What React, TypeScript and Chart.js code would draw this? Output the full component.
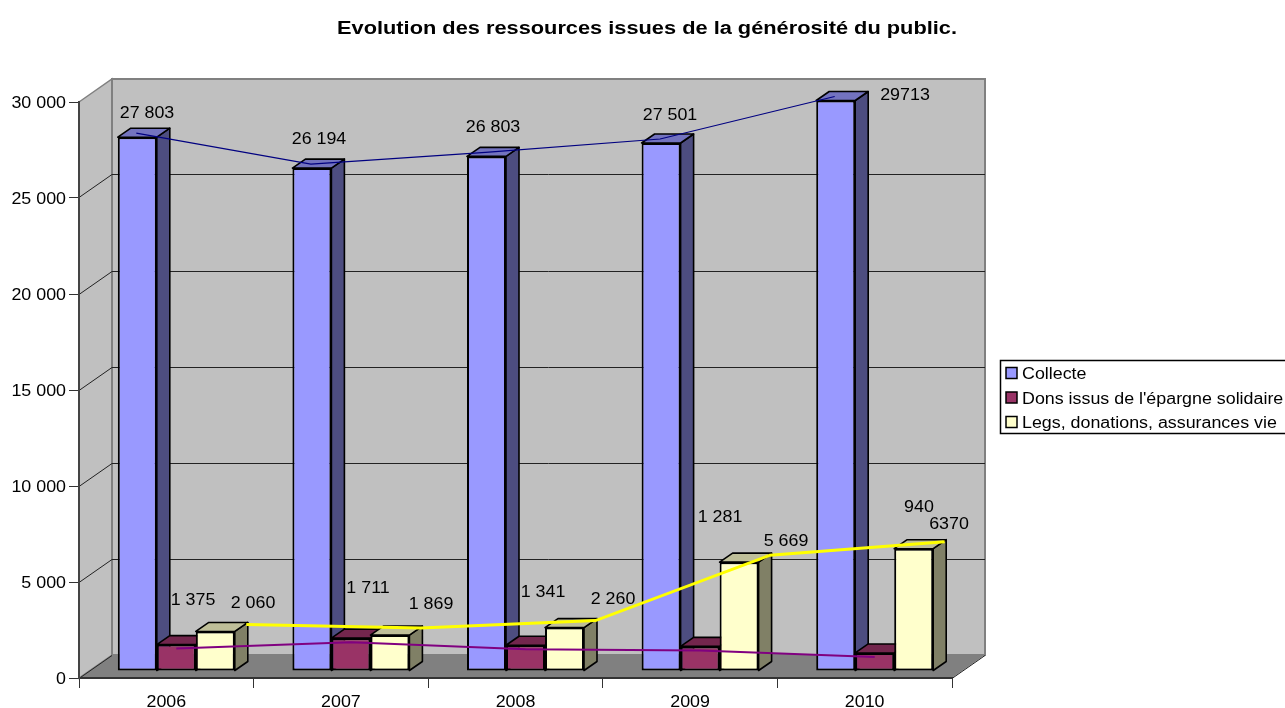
import React, { useEffect, useRef } from "react";
import { Chart, registerables } from "chart.js";

Chart.register(...registerables);

const years = ["2006", "2007", "2008", "2009", "2010"];
const collecte = [27803, 26194, 26803, 27501, 29713];
const dons = [1375, 1711, 1341, 1281, 940];
const legs = [2060, 1869, 2260, 5669, 6370];
const collecteLabels = ["27 803", "26 194", "26 803", "27 501", "29713"];
const donsLabels = ["1 375", "1 711", "1 341", "1 281", "940"];
const legsLabels = ["2 060", "1 869", "2 260", "5 669", "6370"];
const titleText = "Evolution des ressources issues de la générosité du public.";
const seriesNames = ["Collecte", "Dons issus de l'épargne solidaire", "Legs, donations, assurances vie"];

const FONT = "'Liberation Sans', Arial, sans-serif";
const WALL = { dx: 33, dy: -23 };
const BAR_DEPTH = { dx: 13, dy: -9 };
const BAR_STEP = 39;
const BAR_SHIFT = { x: 10, y: -7 };
const TEXT_STRETCH = 1.115;
const TITLE_STRETCH = 1.245;
const TEXT_DROP = 1.2;

const collecteOffsets = [[19.7, -32.2], [17.1, -37.1], [16.5, -37.4], [18.9, -36], [79.3, -13.5]];
const donsOffsets = [[26.7, -52.6], [27.1, -58.1], [27.5, -61.3], [29.9, -137.4], [54.3, -154]];
const legsOffsets = [[47.7, -36.4], [51.1, -39.1], [58.5, -36.6], [56.9, -29.2], [45.3, -32.7]];

const palette = [
  { front: "#9999FF", side: "#4D4D80", top: "#7373BF" },
  { front: "#993366", side: "#4D1A33", top: "#73264D" },
  { front: "#FFFFCC", side: "#808066", top: "#BFBF99" },
];

function poly(ctx: CanvasRenderingContext2D, pts: number[][], fill?: string, stroke?: string, lw = 1) {
  ctx.beginPath();
  pts.forEach((p, i) => (i ? ctx.lineTo(p[0], p[1]) : ctx.moveTo(p[0], p[1])));
  ctx.closePath();
  if (fill) { ctx.fillStyle = fill; ctx.fill(); }
  if (stroke) { ctx.strokeStyle = stroke; ctx.lineWidth = lw; ctx.stroke(); }
}

const scene3d = {
  id: "scene3d",
  beforeInit(chart: any) {
    // the reference's text is horizontally stretched: widen every glyph run around its anchor
    const ctx = chart.ctx;
    const fill = ctx.fillText.bind(ctx);
    ctx.fillText = (text: string, x: number, y: number) => {
      ctx.save();
      ctx.translate(x, y + TEXT_DROP);
      ctx.scale(ctx.font.includes("bold") ? TITLE_STRETCH : TEXT_STRETCH, 1);
      fill(text, 0, 0);
      ctx.restore();
    };
  },
  afterLayout(chart: any) {
    chart.titleBlock.left = 9;
    chart.titleBlock.right = chart.width;
  },
  beforeDraw(chart: any) {
    const { ctx, chartArea: a, scales } = chart;
    const { dx, dy } = WALL;
    ctx.save();
    poly(ctx, [[a.left, a.top], [a.left + dx, a.top + dy], [a.left + dx, a.bottom + dy], [a.left, a.bottom]], "#C0C0C0", "#808080", 1.5);
    poly(ctx, [[a.left + dx, a.top + dy], [a.right + dx, a.top + dy], [a.right + dx, a.bottom + dy], [a.left + dx, a.bottom + dy]], "#C0C0C0", "#808080", 2);
    poly(ctx, [[a.left, a.bottom], [a.left + dx, a.bottom + dy], [a.right + dx, a.bottom + dy], [a.right, a.bottom]], "#808080");
    ctx.strokeStyle = "#222";
    ctx.lineWidth = 1;
    ctx.beginPath();
    scales.y.ticks.forEach((t: any) => {
      const y = Math.floor(scales.y.getPixelForValue(t.value)) + 0.5;
      if (t.value === 30000) return;
      ctx.moveTo(a.left, y);
      ctx.lineTo(a.left + dx, y + dy);
      if (t.value > 0) ctx.lineTo(a.right + dx, y + dy);
      else { ctx.moveTo(a.right + dx, y + dy); ctx.lineTo(a.right, y); }
    });
    ctx.stroke();
    ctx.restore();
  },
  beforeDatasetDraw(chart: any, args: any) {
    const { ctx } = chart;
    const ds = chart.data.datasets[args.index];
    ctx.save();
    ctx.translate(ds.shiftX, ds.shiftY);
    if (ds.type === "line") return;
    const c = palette[args.index];
    args.meta.data.forEach((el: any) => {
      const l = el.x - el.width / 2, r = el.x + el.width / 2;
      const { dx, dy } = BAR_DEPTH;
      ctx.lineJoin = "round";
      poly(ctx, [[r, el.y], [r + dx, el.y + dy], [r + dx, el.base + dy], [r, el.base]], c.side, "#000", 1.6);
      poly(ctx, [[l, el.y], [l + dx, el.y + dy], [r + dx, el.y + dy], [r, el.y]], c.top, "#000", 1.6);
    });
  },
  afterDatasetDraw(chart: any) {
    chart.ctx.restore();
  },
  afterDraw(chart: any) {
    const { ctx } = chart;
    const sets = [
      { labels: collecteLabels, offsets: collecteOffsets },
      { labels: donsLabels, offsets: donsOffsets },
      { labels: legsLabels, offsets: legsOffsets },
    ];
    ctx.save();
    ctx.font = `16px ${FONT}`;
    ctx.fillStyle = "#000";
    ctx.textAlign = "center";
    ctx.textBaseline = "middle";
    sets.forEach((s, i) => {
      const shift = chart.data.datasets[i].shiftX - BAR_SHIFT.x;
      chart.getDatasetMeta(i).data.forEach((el: any, j: number) => {
        ctx.fillText(s.labels[j], el.x + shift + s.offsets[j][0], el.y + s.offsets[j][1]);
      });
    });
    // legend
    ctx.strokeStyle = "#000";
    ctx.lineWidth = 1.5;
    ctx.strokeRect(1000.5, 360.5, 290, 73);
    ctx.textAlign = "left";
    seriesNames.forEach((n, i) => {
      const cy = 373 + i * 24.5;
      ctx.fillStyle = palette[i].front;
      ctx.fillRect(1006, cy - 5.5, 11, 11);
      ctx.lineWidth = 1.5;
      ctx.strokeRect(1006, cy - 5.5, 11, 11);
      ctx.fillStyle = "#000";
      ctx.fillText(n, 1022, cy + 0.5);
    });
    ctx.restore();
  },
};

export default function App() {
  const ref = useRef<HTMLCanvasElement>(null);
  useEffect(() => {
    const barDs = (label: string, data: number[], i: number) => ({
      type: "bar", label, data, order: 3 - i,
      backgroundColor: palette[i].front,
      borderColor: "#000", borderWidth: 2, borderSkipped: false,
      grouped: false,
      categoryPercentage: BAR_STEP / 174.6, barPercentage: 1,
      clip: false, shiftX: BAR_SHIFT.x + (i - 1) * BAR_STEP, shiftY: BAR_SHIFT.y,
    });
    const lineDs = (label: string, data: number[], color: string, width: number, shiftX: number, shiftY: number) => ({
      type: "line", label: label + " (courbe)", data, order: 0,
      borderColor: color, borderWidth: width, pointRadius: 0, tension: 0,
      clip: false, shiftX, shiftY,
    });
    const chart = new Chart(ref.current!, {
      data: {
        labels: years,
        datasets: [
          barDs(seriesNames[0], collecte, 0),
          barDs(seriesNames[1], dons, 1),
          barDs(seriesNames[2], legs, 2),
          lineDs(seriesNames[0], collecte, "#000080", 1.2, -30, -11),
          lineDs(seriesNames[1], dons, "#800080", 2, 10, -3),
          lineDs(seriesNames[2], legs, "#FFFF00", 3, 80, -14),
        ],
      } as any,
      options: {
        responsive: false,
        animation: false,
        devicePixelRatio: 1,
        layout: { padding: { left: 9, right: 333, top: 0, bottom: 0 } },
        plugins: {
          legend: { display: false },
          tooltip: { enabled: false },
          title: {
            display: true,
            text: titleText,
            color: "#000",
            font: { family: FONT, size: 17.5, weight: "bold" },
            padding: { top: 17.5, bottom: 63.5 },
          },
        },
        scales: {
          x: {
            type: "category",
            offset: true,
            grid: { drawOnChartArea: false, color: "#333", tickLength: 10, offset: true },
            border: { color: "#333", width: 2 },
            ticks: { color: "#000", font: { family: FONT, size: 16 }, padding: 4, maxRotation: 0 },
            afterFit: (s: any) => { s.height = 30; },
          },
          y: {
            min: 0, max: 30000,
            grid: { drawOnChartArea: false, color: "#333", tickLength: 10 },
            border: { color: "#444", width: 2 },
            ticks: {
              stepSize: 5000, color: "#000", padding: 3,
              font: { family: FONT, size: 16 },
              callback: (v: any) => (v === 0 ? "0" : `${v / 1000} 000`),
            },
            afterFit: (s: any) => { s.width = 70; },
          },
        },
      } as any,
      plugins: [scene3d],
    });
    return () => chart.destroy();
  }, []);
  return <canvas ref={ref} width={1285} height={708} style={{ position: "absolute", left: 0, top: 0 }} />;
}
